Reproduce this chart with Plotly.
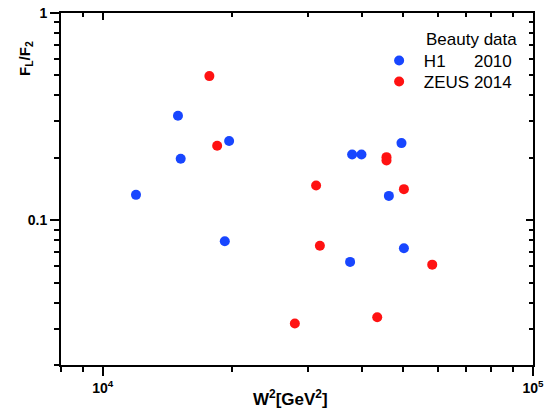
import math
import plotly.graph_objects as go

# H1 2010 beauty measurements: W^2 [GeV^2] and F_L/F_2
h1_w2 = [11950, 14960, 15180, 19670, 19220, 37990, 39940, 49470, 46240, 50120, 37580]
h1_ratio = [0.1325, 0.319, 0.198, 0.241, 0.0792, 0.2075, 0.2075, 0.2355, 0.131, 0.0732, 0.0629]

# ZEUS 2014 beauty measurements
zeus_w2 = [17700, 18450, 31330, 31970, 27960, 43450, 45660, 45660, 50120, 58320]
zeus_ratio = [0.496, 0.2285, 0.147, 0.0752, 0.0317, 0.034, 0.2015, 0.194, 0.1412, 0.061]

x_range = [8000, 100000]
y_range = [0.02, 1.0]
x_major = [1e4, 1e5]
x_major_text = ["10<sup>4</sup>", "10<sup>5</sup>"]
x_minor = [8000, 9000] + [k * 1e4 for k in range(2, 10)]
y_major = [0.1, 1.0]
y_major_text = ["0.1", "1"]
y_minor = [k * 0.01 for k in range(2, 10)] + [k * 0.1 for k in range(2, 10)]

FONT = "Liberation Sans, Arial, sans-serif"
BLUE = "#1846FF"
RED = "#FF1212"
NB = "\u00a0"

fig = go.Figure()
fig.add_trace(go.Scatter(
    x=h1_w2, y=h1_ratio, mode="markers", name=NB + "H1" + NB * 6 + "2010",
    marker=dict(color=BLUE, size=10, line=dict(width=0)), legend="legend",
    showlegend=True,
))
fig.add_trace(go.Scatter(
    x=zeus_w2, y=zeus_ratio, mode="markers", name=NB + "ZEUS 2014",
    marker=dict(color=RED, size=10, line=dict(width=0)), legend="legend2",
    showlegend=True,
))
# empty trace that carries the mirrored top/right frame axes
fig.add_trace(go.Scatter(x=[], y=[], xaxis="x2", yaxis="y2", showlegend=False, hoverinfo="skip"))

lx = [math.log10(v) for v in x_range]
ly = [math.log10(v) for v in y_range]

axis_common = dict(
    type="log", showgrid=False, zeroline=False, showline=True, automargin=False,
    linecolor="black", linewidth=2, tickcolor="black", tickwidth=1.5,
)

legend_common = dict(
    x=0.674, xanchor="left", yanchor="middle",
    bgcolor="rgba(0,0,0,0)", borderwidth=0,
    font=dict(size=17, family=FONT), itemwidth=30, tracegroupgap=0,
)

fig.update_layout(
    width=559, height=414,
    showlegend=True,
    margin=dict(l=61, r=26, t=13, b=49, pad=0),
    paper_bgcolor="white", plot_bgcolor="white",
    font=dict(family=FONT, color="black"),
    xaxis=dict(
        **axis_common, range=lx, ticks="outside", ticklen=9,
        tickmode="array", tickvals=x_major, ticktext=x_major_text,
        tickfont=dict(size=14, weight="bold", family=FONT),
        minor=dict(tickmode="array", tickvals=x_minor, ticks="outside", ticklen=5,
                   tickcolor="black", tickwidth=1.5),
    ),
    yaxis=dict(
        **axis_common, range=ly, ticks="outside", ticklen=9,
        tickmode="array", tickvals=y_major, ticktext=y_major_text,
        tickfont=dict(size=14, weight="bold", family=FONT),
        minor=dict(tickmode="array", tickvals=y_minor, ticks="outside", ticklen=5,
                   tickcolor="black", tickwidth=1.5),
    ),
    xaxis2=dict(
        **axis_common, range=lx, overlaying="x", anchor="y", side="top",
        ticks="inside", ticklen=7, showticklabels=False,
        tickmode="array", tickvals=x_major,
        minor=dict(tickmode="array", tickvals=x_minor, ticks="inside", ticklen=4,
                   tickcolor="black", tickwidth=1.5),
    ),
    yaxis2=dict(
        **axis_common, range=ly, overlaying="y", anchor="x", side="right",
        ticks="inside", ticklen=7, showticklabels=False,
        tickmode="array", tickvals=y_major,
        minor=dict(tickmode="array", tickvals=y_minor, ticks="inside", ticklen=4,
                   tickcolor="black", tickwidth=1.5),
    ),
    legend=dict(**legend_common, y=1 - (61 - 13) / 352, visible=True),
    legend2=dict(**legend_common, y=1 - (82 - 13) / 352, visible=True),
    annotations=[
        dict(text="Beauty data", xref="paper", yref="paper", x=(424 - 61) / 472,
             y=1 - (39 - 13) / 352, xanchor="left", yanchor="middle", showarrow=False,
             font=dict(size=17, family=FONT)),
        dict(text="F<sub>L</sub>/F<sub>2</sub>", xref="paper", yref="paper",
             x=(26 - 61) / 472, y=1 - (59 - 13) / 352, xanchor="center", yanchor="middle",
             textangle=-90, showarrow=False,
             font=dict(size=15, family=FONT, weight="bold")),
        dict(text="W<sup>2</sup>[GeV<sup>2</sup>]", xref="paper", yref="paper",
             x=(290 - 61) / 472, y=-(398 - 365) / 352, xanchor="center", yanchor="middle",
             showarrow=False, font=dict(size=17, family=FONT, weight="bold")),
    ],
)

fig.write_html("out.html")
